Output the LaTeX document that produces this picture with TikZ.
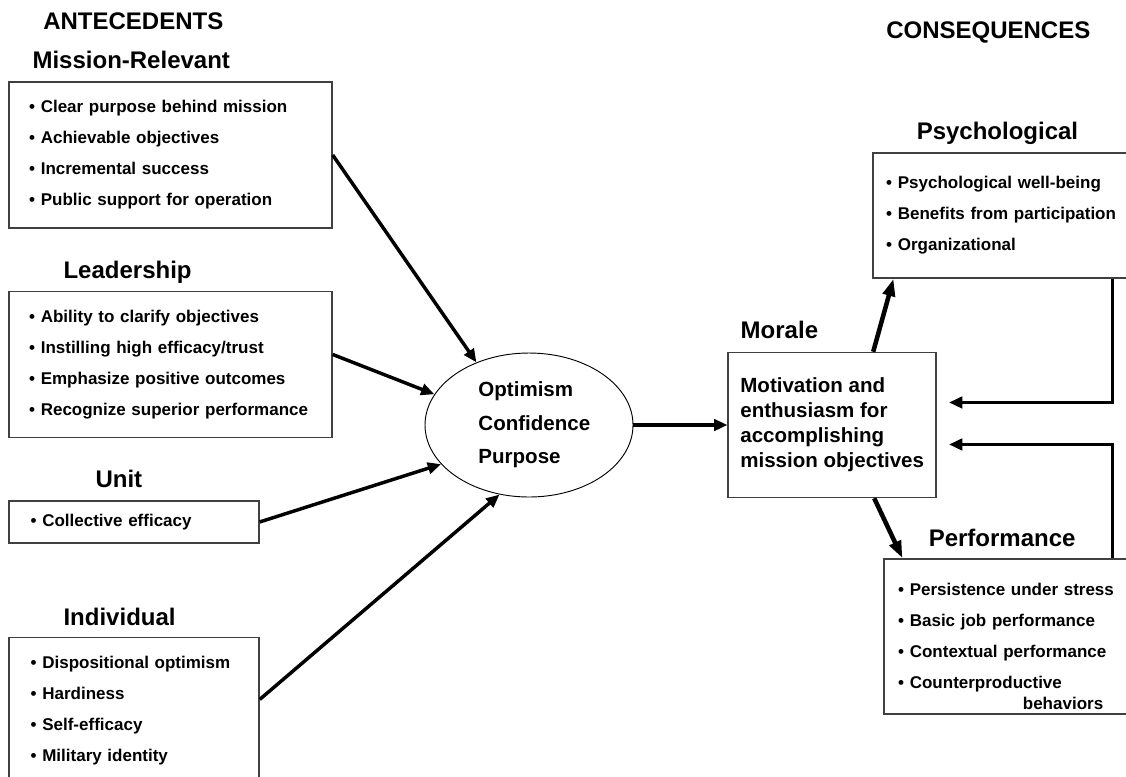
\documentclass[tikz,border=0pt]{standalone}
\usepackage{fontspec}
\setmainfont{Liberation Sans}
\usetikzlibrary{shapes.geometric, arrows.meta, positioning}

\newcommand{\bul}{\textbullet~}

\begin{document}
\begin{tikzpicture}[x=0.75pt, y=-0.75pt,
    heading/.style={font=\bfseries\fontsize{18}{18}\selectfont, inner sep=0pt, text depth=0pt},
    itembox/.style={rectangle, draw=black!75, line width=1.1pt, align=left, inner ysep=1pt, font=\bfseries\fontsize{12.75}{23.25}\selectfont},
    arrow/.style={-{Triangle[length=10pt, width=8.5pt]}, line width=2.6pt},
    bigarrow/.style={-{Triangle[length=13pt, width=9pt]}, line width=3.4pt}
]
    \useasboundingbox (0,0) rectangle (1126,776);

    % Column headings
    \node[heading, anchor=base west] (ante) at (43,29) {ANTECEDENTS};
    \node[heading, anchor=base west] (cons) at (886,38) {CONSEQUENCES};

    % Antecedents
    \node[itembox, text width=212pt, inner xsep=15.1pt, minimum height=109.5pt] (mission) at (170.5,155)
        {\bul Clear purpose behind mission\\ \bul Achievable objectives\\ \bul Incremental success\\ \bul Public support for operation};
    \node[itembox, text width=212pt, inner xsep=15.1pt, minimum height=109.5pt, below=46.5pt of mission] (leader)
        {\bul Ability to clarify objectives\\ \bul Instilling high efficacy/trust\\ \bul Emphasize positive outcomes\\ \bul Recognize superior performance};
    \node[itembox, text width=155pt, inner xsep=16.25pt, minimum height=31.5pt, below right=46.5pt and 0pt of leader.south west] (unit)
        {\bul Collective efficacy};
    \node[itembox, text width=155pt, inner xsep=16.25pt, minimum height=109.5pt, below right=69.75pt and 0pt of unit.south west] (indiv)
        {\bul Dispositional optimism\\ \bul Hardiness\\ \bul Self-efficacy\\ \bul Military identity};

    \node[heading, above right=9.75pt and 18pt of mission.north west] (missiontitle) {Mission-Relevant};
    \node[heading, above right=9pt and 41.25pt of leader.north west] (leadertitle) {Leadership};
    \node[heading, above right=9pt and 65.25pt of unit.north west] (unittitle) {Unit};
    \node[heading, above right=8.25pt and 41.25pt of indiv.north west] (indivtitle) {Individual};

    % Mediator and morale
    \node[ellipse, draw, line width=0.7pt, minimum width=156pt, minimum height=108pt, align=left,
        font=\bfseries\fontsize{15.4}{25}\selectfont] (ell) at (529,425) {\hspace*{8pt}Optimism\\\hspace*{8pt}Confidence\\\hspace*{8pt}Purpose};
    \node[rectangle, draw=black!75, line width=1.1pt, minimum width=156pt, minimum height=108.75pt, align=left,
        font=\bfseries\fontsize{15.4}{18.75}\selectfont, right=70.5pt of ell] (morale)
        {Motivation and\\enthusiasm for\\accomplishing\\mission objectives};
    \node[heading, above right=9.75pt and 9.75pt of morale.north west] (moraletitle) {Morale};

    % Consequences
    \node[itembox, text width=181.5pt, inner xsep=9.75pt, minimum height=93.75pt, above right=54.75pt and 108.75pt of morale.north west] (psych)
        {\bul Psychological well-being\\ \bul Benefits from participation\\ \bul Organizational};
    \node[itembox, text width=171.75pt, inner xsep=10.5pt, minimum height=116.25pt, below right=45pt and 117pt of morale.south west] (perf)
        {\rule{0pt}{24.5pt}\bul Persistence under stress\\ \bul Basic job performance\\ \bul Contextual performance\\ \bul Counterproductive\\[-7.5pt] \hspace*{\fill}behaviors\hspace*{18pt}\mbox{}};
    \node[heading, above right=9.5pt and 33pt of psych.north west] (psychtitle) {Psychological};
    \node[heading, above right=8.25pt and 33.75pt of perf.north west] (perftitle) {Performance};

    % Arrows
    \draw[arrow] (mission.east) -- (ell.130);
    \draw[arrow] ([yshift=7.5pt]leader.east) -- (ell.162);
    \draw[arrow] (unit.east) -- (ell.204);
    \draw[arrow] ([yshift=8.25pt]indiv.east) -- (ell.247);
    \draw[arrow] (ell.east) -- (morale.west);

    \draw[bigarrow] ([xshift=30.75pt]morale.north) -- ([xshift=15.75pt]psych.south west);
    \draw[bigarrow] ([xshift=31.5pt]morale.south) -- ([xshift=14.25pt]perf.north west);

    % Feedback
    \draw[arrow, line width=2.8pt] ([xshift=180pt]psych.south west) |- ([xshift=9pt, yshift=16.9pt]morale.east);
    \draw[arrow, line width=2.8pt] ([xshift=171.75pt]perf.north west) |- ([xshift=9pt, yshift=-14.6pt]morale.east);
\end{tikzpicture}
\end{document}
